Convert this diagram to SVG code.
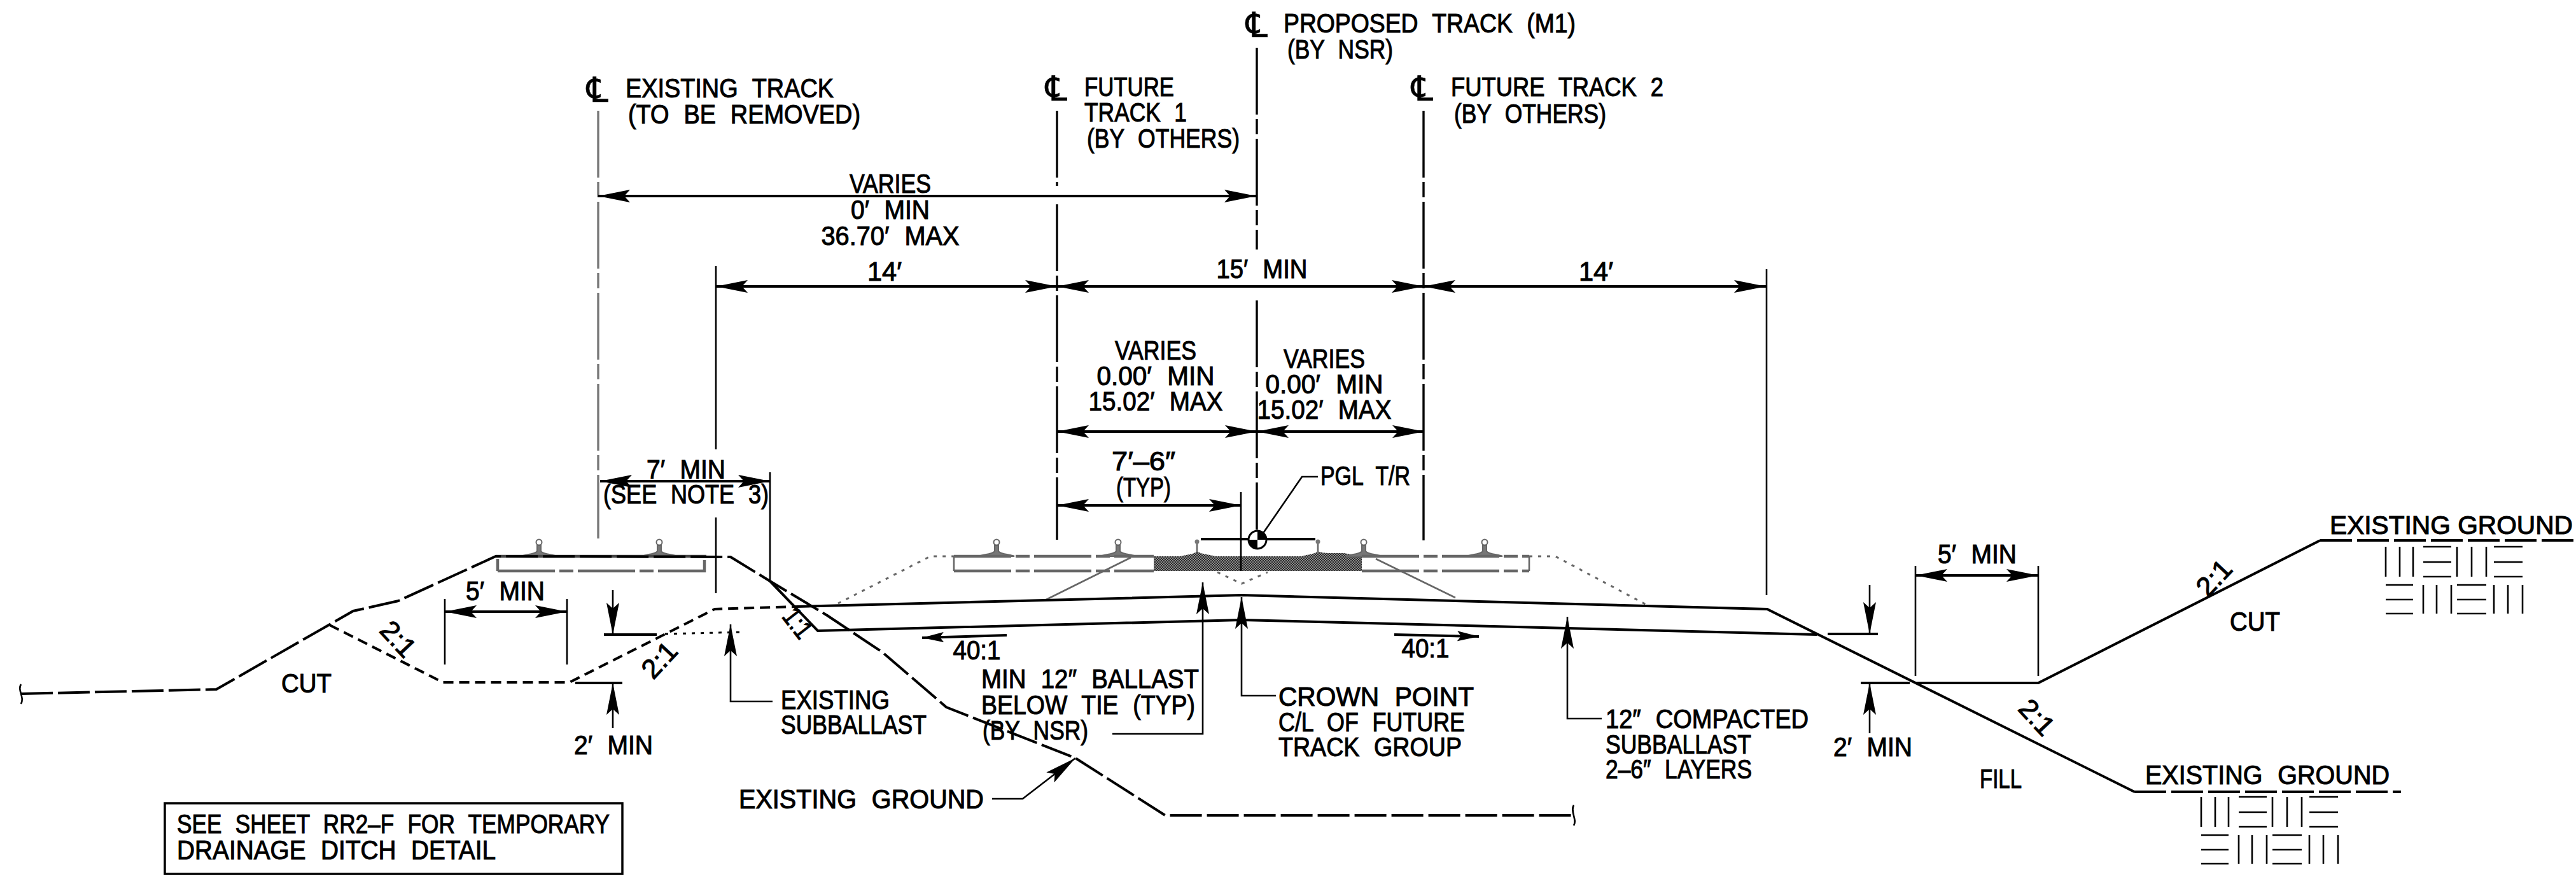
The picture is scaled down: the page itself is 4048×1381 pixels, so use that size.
<svg xmlns="http://www.w3.org/2000/svg" width="4048" height="1381" viewBox="0 0 4048 1381">
<style>
text{font-family:"Liberation Sans",Arial,sans-serif;font-size:43px;fill:#000;stroke:#000;stroke-width:1.1px;word-spacing:14px}
.m{text-anchor:middle}
.c{font-family:"DejaVu Sans",sans-serif;font-size:54px;stroke-width:.6px}
.l{fill:none;stroke:#000;stroke-width:4;stroke-linecap:butt;stroke-linejoin:miter}
.t{fill:none;stroke:#000;stroke-width:2.6}
.g{stroke-dasharray:50 8}
.d{stroke-dasharray:16 9}
.cl{fill:none;stroke:#000;stroke-width:3.4;stroke-dasharray:105 7 24 7}
.clg{fill:none;stroke:#777;stroke-width:3.4;stroke-dasharray:105 7 24 7}
.tie{fill:none;stroke:#666;stroke-width:4.5;stroke-dasharray:90 7 22 7}
.dot{fill:none;stroke:#666;stroke-width:3;stroke-dasharray:5 9}
.gl{fill:none;stroke:#666;stroke-width:2.6}
.a{marker-start:url(#ah);marker-end:url(#ah)}
.e{marker-end:url(#ah)}
.es{marker-end:url(#ahs)}
.rail{fill:#777;stroke:#666;stroke-width:2}
</style>
<defs>
<marker id="ah" markerUnits="userSpaceOnUse" markerWidth="52" markerHeight="24" refX="50" refY="12" orient="auto-start-reverse">
<path d="M50,12 L0,2 L9,12 L0,22 Z" fill="#000"/>
</marker>
<marker id="ahs" markerUnits="userSpaceOnUse" markerWidth="36" markerHeight="20" refX="34" refY="10" orient="auto">
<path d="M34,10 L0,2 L6,10 L0,18 Z" fill="#000"/>
</marker>
<pattern id="dither" width="4" height="4" patternUnits="userSpaceOnUse">
<rect width="4" height="4" fill="#8a8a8a"/>
<path d="M0,0h2v2h-2zM2,2h2v2h-2z" fill="#2a2a2a"/>
</pattern>
<g id="railA" class="rail">
<circle cx="0" cy="-22" r="4.5" fill="#fff"/>
<path d="M-3,-17 L-3,-8 C-6,-3 -22,-3 -28,0 L28,0 C22,-3 6,-3 3,-8 L3,-17 Z"/>
</g>
<g id="hatch" class="t">
<path d="M3749,859V906M3771,859V906M3792,859V906M3861,859V906M3884,859V906M3907,859V906M3808,859H3852M3808,883H3852M3808,906H3852M3919,859H3964M3919,883H3964M3919,906H3964"/>
<path d="M3808,919V964M3829,919V964M3852,919V964M3919,919V964M3941,919V964M3964,919V964M3749,919H3792M3749,942H3792M3749,964H3792M3861,919H3907M3861,942H3907M3861,964H3907"/>
</g>
</defs>
<rect width="4048" height="1381" fill="#fff"/>

<g id="centerlines">
<path class="clg" d="M940,174V846"/>
<path class="cl" d="M1661,174V292M1661,321V848"/>
<path class="cl" d="M1975,75V392M1975,472V832"/>
<path class="cl" d="M2237,174V849"/>
</g>

<g id="track-existing">
<use href="#railA" x="847" y="874"/>
<use href="#railA" x="1036" y="874"/>
<path class="tie" d="M782,897H1107V880M782,897V878"/>
<path d="M779,874H1110" fill="none" stroke="#444" stroke-width="4.5"/>
</g>

<g id="track-proposed">
<path d="M1813,874H1855C1866,871 1876,871 1881,866C1888,871 1900,871 1910,874H2045C2055,871 2065,871 2071,866C2080,870 2092,869 2112,869C2122,871 2130,872 2140,874V897H1813Z" fill="url(#dither)"/>
<use href="#railA" x="1566" y="874"/>
<use href="#railA" x="1757" y="874"/>
<use href="#railA" x="2143" y="874"/>
<use href="#railA" x="2333" y="874"/>
<path class="tie" d="M1499,874H1813M2140,874H2403M1499,897H1813M2140,897H2403"/>
<path class="gl" d="M1499,874V897M2403,874V897M1881,852V868M2071,852V868"/>
<circle cx="1881" cy="851" r="3.5" fill="#777"/><circle cx="2071" cy="851" r="3.5" fill="#777"/>
<path class="dot" d="M1317,948L1462,874H1499M2403,874H2444L2589,951"/>
<path class="dot" d="M1913,899L1951,917L1992,899"/>
<path class="gl" d="M1642,943L1777,876M2162,878L2287,939"/>
</g>

<g id="ground">
<path class="l g" d="M33,1090L340,1083L555,960L626,944L779,874L1148,875L1210,913L1300,967L1387,1025L1487,1111L1690,1191L1831,1281H2473"/>
<path class="t" d="M33,1075C27,1085 39,1095 33,1106M2473,1265C2467,1275 2479,1288 2473,1297"/>
<path class="l d" d="M518,982L696,1072H895L1123,957L1252,953"/>
<path class="l" style="stroke-width:3;stroke-dasharray:5 9" d="M1045,996L1169,993"/>
<path class="l" d="M1252,953L1951,935L2777,957L3354,1244"/>
<path class="l" d="M1210,913L1285,991L1951,974L2855,997"/>
<path class="l" d="M3010,1073H3203L3646,849"/>
<path class="l g" d="M3354,1244H3773M3646,849H4048"/>
</g>

<g id="connectors">
<path class="t" d="M1125,418V706M1125,813V932M2776,423V935M1950,773V897M1210,742V913"/>
<path class="t" d="M699,941V1044M891,941V1044M3010,889V1062M3203,889V1062"/>
<path class="l a" d="M940,308H1974"/>
<path class="l a" d="M1125,450H1661"/>
<path class="l a" d="M1661,450H2237"/>
<path class="l a" d="M2237,450H2775"/>
<path class="l a" d="M1661,678H1975"/>
<path class="l a" d="M1975,678H2238"/>
<path class="l a" d="M1661,794H1950"/>
<path class="l a" d="M943,756H1210"/>
<path class="l a" d="M699,961H891"/>
<path class="l a" d="M3010,904H3203"/>
<path class="t e" d="M963,927V997"/>
<path class="l" d="M949,997H1032M904,1073H978M2872,996H2951M2924,1073H3001"/>
<path class="t e" d="M963,1144V1073"/>
<path class="t e" d="M2938,919V996"/>
<path class="t e" d="M2938,1152V1073"/>
<path class="t e" d="M1214,1102H1148V981"/>
<path class="t e" d="M1748,1153H1890V915"/>
<path class="t e" d="M2005,1093H1951V938"/>
<path class="t e" d="M2517,1129H2463V969"/>
<path class="t e" d="M1559,1255H1607L1690,1191"/>
<path class="l es" d="M1582,998L1449,1002"/>
<path class="l es" d="M2191,997L2324,1000"/>
</g>

<g id="pgl">
<path class="l" d="M1887,847H2067"/>
<path class="t" d="M1984,839L2046,749H2071"/>
<circle cx="1976" cy="848" r="14" fill="#fff" stroke="#000" stroke-width="3"/>
<path d="M1976,848V834A14,14 0 0 1 1990,848ZM1976,848V862A14,14 0 0 1 1962,848Z" fill="#000"/>
</g>

<g id="cl-symbols">
<text class="c" x="922" y="160" textLength="34" lengthAdjust="spacingAndGlyphs">℄</text>
<text class="c" x="1643" y="158" textLength="34" lengthAdjust="spacingAndGlyphs">℄</text>
<text class="c" x="1958" y="58" textLength="34" lengthAdjust="spacingAndGlyphs">℄</text>
<text class="c" x="2218" y="158" textLength="34" lengthAdjust="spacingAndGlyphs">℄</text>
</g>

<g id="track-labels">
<text x="983" y="153" textLength="327" lengthAdjust="spacingAndGlyphs">EXISTING TRACK</text>
<text x="987" y="194" textLength="365" lengthAdjust="spacingAndGlyphs">(TO BE REMOVED)</text>
<text x="1704" y="151" textLength="141" lengthAdjust="spacingAndGlyphs">FUTURE</text>
<text x="1704" y="191" textLength="161" lengthAdjust="spacingAndGlyphs">TRACK 1</text>
<text x="1708" y="232" textLength="240" lengthAdjust="spacingAndGlyphs">(BY OTHERS)</text>
<text x="2017" y="51" textLength="459" lengthAdjust="spacingAndGlyphs">PROPOSED TRACK (M1)</text>
<text x="2023" y="92" textLength="166" lengthAdjust="spacingAndGlyphs">(BY NSR)</text>
<text x="2280" y="151" textLength="334" lengthAdjust="spacingAndGlyphs">FUTURE TRACK 2</text>
<text x="2285" y="193" textLength="239" lengthAdjust="spacingAndGlyphs">(BY OTHERS)</text>
</g>

<g id="dimension-labels">
<text class="m" x="1399" y="303" textLength="128" lengthAdjust="spacingAndGlyphs">VARIES</text>
<text class="m" x="1399" y="344" textLength="124" lengthAdjust="spacingAndGlyphs">0′ MIN</text>
<text class="m" x="1399" y="385" textLength="217" lengthAdjust="spacingAndGlyphs">36.70′ MAX</text>
<text class="m" x="1390" y="441" textLength="54" lengthAdjust="spacingAndGlyphs">14′</text>
<text class="m" x="1983" y="437" textLength="143" lengthAdjust="spacingAndGlyphs">15′ MIN</text>
<text class="m" x="2508" y="441" textLength="54" lengthAdjust="spacingAndGlyphs">14′</text>
<text class="m" x="1816" y="565" textLength="128" lengthAdjust="spacingAndGlyphs">VARIES</text>
<text class="m" x="1816" y="605" textLength="185" lengthAdjust="spacingAndGlyphs">0.00′ MIN</text>
<text class="m" x="1816" y="645" textLength="211" lengthAdjust="spacingAndGlyphs">15.02′ MAX</text>
<text class="m" x="2081" y="578" textLength="128" lengthAdjust="spacingAndGlyphs">VARIES</text>
<text class="m" x="2081" y="618" textLength="185" lengthAdjust="spacingAndGlyphs">0.00′ MIN</text>
<text class="m" x="2081" y="658" textLength="211" lengthAdjust="spacingAndGlyphs">15.02′ MAX</text>
<text class="m" x="1797" y="739" textLength="100" lengthAdjust="spacingAndGlyphs">7′–6″</text>
<text class="m" x="1797" y="780" textLength="86" lengthAdjust="spacingAndGlyphs">(TYP)</text>
<text x="2075" y="762" textLength="141" lengthAdjust="spacingAndGlyphs">PGL T/R</text>
<text class="m" x="1078" y="752" textLength="124" lengthAdjust="spacingAndGlyphs">7′ MIN</text>
<text class="m" x="1078" y="791" textLength="260" lengthAdjust="spacingAndGlyphs">(SEE NOTE 3)</text>
<text class="m" x="794" y="943" textLength="124" lengthAdjust="spacingAndGlyphs">5′ MIN</text>
<text class="m" x="964" y="1185" textLength="124" lengthAdjust="spacingAndGlyphs">2′ MIN</text>
<text class="m" x="3107" y="885" textLength="124" lengthAdjust="spacingAndGlyphs">5′ MIN</text>
<text class="m" x="2943" y="1188" textLength="124" lengthAdjust="spacingAndGlyphs">2′ MIN</text>
<text class="m" x="1535" y="1036" textLength="75" lengthAdjust="spacingAndGlyphs">40:1</text>
<text class="m" x="2240" y="1033" textLength="75" lengthAdjust="spacingAndGlyphs">40:1</text>
<text class="m" transform="translate(615,1014) rotate(47)" textLength="60" lengthAdjust="spacingAndGlyphs">2:1</text>
<text class="m" transform="translate(1047,1047) rotate(-47)" textLength="60" lengthAdjust="spacingAndGlyphs">2:1</text>
<text class="m" transform="translate(1242,988) rotate(52)" textLength="48" lengthAdjust="spacingAndGlyphs">1:1</text>
<text class="m" transform="translate(3490,918) rotate(-47)" textLength="60" lengthAdjust="spacingAndGlyphs">2:1</text>
<text class="m" transform="translate(3190,1137) rotate(47)" textLength="60" lengthAdjust="spacingAndGlyphs">2:1</text>
</g>

<g id="callouts">
<text x="442" y="1088" textLength="79" lengthAdjust="spacingAndGlyphs">CUT</text>
<text x="3504" y="991" textLength="79" lengthAdjust="spacingAndGlyphs">CUT</text>
<text x="3111" y="1238" textLength="66" lengthAdjust="spacingAndGlyphs">FILL</text>
<text x="1227" y="1114" textLength="171" lengthAdjust="spacingAndGlyphs">EXISTING</text>
<text x="1227" y="1153" textLength="229" lengthAdjust="spacingAndGlyphs">SUBBALLAST</text>
<text x="1161" y="1270" textLength="385" lengthAdjust="spacingAndGlyphs">EXISTING GROUND</text>
<text x="1542" y="1081" textLength="342" lengthAdjust="spacingAndGlyphs">MIN 12″ BALLAST</text>
<text x="1542" y="1122" textLength="336" lengthAdjust="spacingAndGlyphs">BELOW TIE (TYP)</text>
<text x="1544" y="1162" textLength="166" lengthAdjust="spacingAndGlyphs">(BY NSR)</text>
<text x="2009" y="1109" textLength="307" lengthAdjust="spacingAndGlyphs">CROWN POINT</text>
<text x="2009" y="1149" textLength="293" lengthAdjust="spacingAndGlyphs">C/L OF FUTURE</text>
<text x="2009" y="1188" textLength="288" lengthAdjust="spacingAndGlyphs">TRACK GROUP</text>
<text x="2523" y="1144" textLength="319" lengthAdjust="spacingAndGlyphs">12″ COMPACTED</text>
<text x="2523" y="1184" textLength="229" lengthAdjust="spacingAndGlyphs">SUBBALLAST</text>
<text x="2523" y="1223" textLength="230" lengthAdjust="spacingAndGlyphs">2–6″ LAYERS</text>
<text x="3661" y="839" textLength="382" lengthAdjust="spacingAndGlyphs" style="word-spacing:0;font-size:40px">EXISTING GROUND</text>
<text x="3371" y="1232" textLength="384" lengthAdjust="spacingAndGlyphs">EXISTING GROUND</text>
</g>

<g id="ground-hatch">
<use href="#hatch"/>
<use href="#hatch" x="-290" y="393"/>
</g>

<g id="note-box">
<rect x="259" y="1262" width="719" height="111" fill="none" stroke="#000" stroke-width="3.5"/>
<text x="278" y="1309" textLength="680" lengthAdjust="spacingAndGlyphs">SEE SHEET RR2–F FOR TEMPORARY</text>
<text x="278" y="1350" textLength="501" lengthAdjust="spacingAndGlyphs">DRAINAGE DITCH DETAIL</text>
</g>
</svg>
